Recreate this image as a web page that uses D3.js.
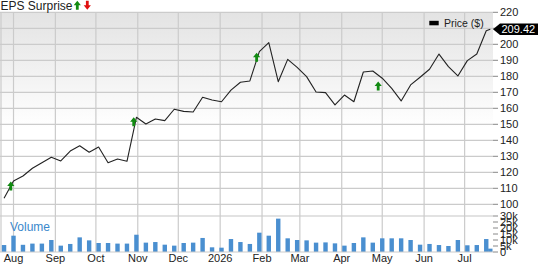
<!DOCTYPE html>
<html><head><meta charset="utf-8">
<script src="https://cdn.jsdelivr.net/npm/d3@7"></script>
<style>body{margin:0;background:#fff}svg{display:block;font-family:"Liberation Sans",Arial,sans-serif}</style>
</head><body><svg id="c" width="538" height="264"></svg>
<script>
const dates = ["2025-07-25","2025-08-01","2025-08-08","2025-08-15","2025-08-22","2025-08-29","2025-09-05","2025-09-12","2025-09-19","2025-09-26","2025-10-03","2025-10-10","2025-10-17","2025-10-24","2025-10-31","2025-11-07","2025-11-14","2025-11-21","2025-11-28","2025-12-05","2025-12-12","2025-12-19","2025-12-26","2026-01-02","2026-01-09","2026-01-16","2026-01-23","2026-01-30","2026-02-06","2026-02-13","2026-02-20","2026-02-27","2026-03-06","2026-03-13","2026-03-20","2026-03-27","2026-04-03","2026-04-10","2026-04-17","2026-04-24","2026-05-01","2026-05-08","2026-05-15","2026-05-22","2026-05-29","2026-06-05","2026-06-12","2026-06-19","2026-06-26","2026-07-03","2026-07-10","2026-07-17","2026-07-20"];
const price = [103.8,114.6,117.7,122.5,126,129.4,127.1,133.3,136.6,132.5,135.8,126,128.3,126.9,154.4,150.2,153.3,152.3,159.4,158.1,157.7,166.9,165.2,164.1,171.4,176.3,177.1,195.4,201,176.6,190.6,185.6,179.8,170.2,169.8,162.1,168.3,164.1,182.7,183.3,178.8,172.5,164.6,174.6,179.4,184.4,193.9,186,180.2,189.8,193.9,208.5,209.42];
const volume = [5.8,13.6,6,7,7,10,5.3,6.7,12.2,9.7,7.5,7.5,7,7,14.4,7.8,8.3,6.1,5.3,7.5,7.8,11.7,3.9,3.6,10.8,8.3,6.7,16.1,13.6,27.8,11.4,10,9.7,7.8,8,7.2,5.3,7.5,12.2,7.8,11.4,11.4,11.4,10,6.1,6.7,5.8,5,10,5.6,5.8,10.8,2.8];
const epsDates = ["2025-07-30","2025-10-29","2026-01-28","2026-04-28"];
const epsLevels = [111.4,151.6,191.9,173.9];
const epsType = ["up","up","up","up"];
const priceTicks = [100,110,120,130,140,150,160,170,180,190,200,210,220];
const volTicks = [0,5,10,15,20,25,30];
const volTickLabels = ["0","5k","10k","15k","20k","25k","30k"];
const monthTicks = ["2025-08-01","2025-09-01","2025-10-01","2025-11-01","2025-12-01","2026-01-01","2026-02-01","2026-03-01","2026-04-01","2026-05-01","2026-06-01","2026-07-01"];
const monthLabels = ["Aug","Sep","Oct","Nov","Dec","2026","Feb","Mar","Apr","May","Jun","Jul"];
const lastLabel = "209.42";

const P = d3.timeParse("%Y-%m-%d");
const svg = d3.select("#c");
const L = 0, R = 493, T = 12.3, B = 204.3, VT = 216, VB = 252;
const x = d3.scaleTime().domain([P("2025-07-22"), P("2026-07-22")]).range([L, R]);
const y = d3.scaleLinear().domain([100, 220]).range([B, T]);
const yv = d3.scaleLinear().domain([0, 30]).range([VB, VT]);

const defs = svg.append("defs");
const g = defs.append("linearGradient").attr("id","bg").attr("x1",0).attr("y1",0).attr("x2",0).attr("y2",1);
g.append("stop").attr("offset","0%").attr("stop-color","#e3e3e3");
g.append("stop").attr("offset","60%").attr("stop-color","#ffffff");
svg.append("rect").attr("x",L).attr("y",T).attr("width",R-L).attr("height",B-T).attr("fill","url(#bg)");

// horizontal grid
svg.append("g").selectAll("line").data(priceTicks).join("line")
  .attr("x1",L).attr("x2",R).attr("y1",d=>y(d)).attr("y2",d=>y(d))
  .attr("stroke","#cbcbcb").attr("stroke-width",1.2);
// volume top band
svg.append("line").attr("x1",L).attr("x2",R).attr("y1",VT).attr("y2",VT).attr("stroke","#e2e2e2").attr("stroke-width",2);
// vertical grid
svg.append("g").selectAll("line").data(monthTicks).join("line")
  .attr("x1",d=>x(P(d))).attr("x2",d=>x(P(d))).attr("y1",T).attr("y2",VB)
  .attr("stroke","#cbcbcb").attr("stroke-width",1.2);
svg.append("line").attr("x1",1).attr("x2",1).attr("y1",T).attr("y2",VB).attr("stroke","#cbcbcb").attr("stroke-width",1.2);

// volume bars
svg.append("g").selectAll("rect").data(volume).join("rect")
  .attr("x",(d,i)=>x(P(dates[i]))-2.2).attr("width",4.4)
  .attr("y",d=>yv(d)).attr("height",d=>VB-yv(d))
  .attr("fill","#4a8fd0");
svg.append("line").attr("x1",L).attr("x2",R).attr("y1",VB).attr("y2",VB).attr("stroke","#cbcbcb").attr("stroke-width",1);

svg.append("text").attr("x",10).attr("y",230.5).attr("font-size",12).attr("fill","#3a88cc").text("Volume");

// price line
const line = d3.line().x((d,i)=>x(P(dates[i]))).y(d=>y(d));
svg.append("path").datum(price).attr("d",line).attr("fill","none").attr("stroke","#222").attr("stroke-width",1.1).attr("stroke-linejoin","round");

// EPS arrows
function arrow(sel, cx, cy, up, col){
  const s = up ? 1 : -1;
  const pts = [[0,-4.5],[3.6,0],[1.4,0],[1.4,4.5],[-1.4,4.5],[-1.4,0],[-3.6,0]].map(p=>[cx+p[0], cy+s*p[1]]);
  sel.append("polygon").attr("points",pts.map(p=>p.join(",")).join(" ")).attr("fill",col);
}
const ga = svg.append("g");
epsDates.forEach((d,i)=>arrow(ga, x(P(d)), y(epsLevels[i]), epsType[i]==="up", epsType[i]==="up"?"#118a11":"#e01010"));

const ly = y(price[price.length-1]);

// right axis price
const ax = svg.append("g").attr("font-size",11).attr("fill","#222");
ax.selectAll("line.pt").data(priceTicks).join("line").attr("class","pt")
  .attr("x1",R).attr("x2",R+5).attr("y1",d=>y(d)).attr("y2",d=>y(d)).attr("stroke","#888");
ax.selectAll("text.pt").data(priceTicks.filter(d=>Math.abs(y(d)-ly)>9)).join("text").attr("class","pt")
  .attr("x",R+7).attr("y",d=>y(d)+4).text(d=>d);
ax.selectAll("line.vt").data(volTicks).join("line").attr("class","vt")
  .attr("x1",R).attr("x2",R+5).attr("y1",d=>yv(d)).attr("y2",d=>yv(d)).attr("stroke","#888");
ax.selectAll("text.vt").data(volTicks).join("text").attr("class","vt")
  .attr("x",R+7).attr("y",d=>yv(d)+4).text((d,i)=>volTickLabels[i]);

// x labels
svg.append("g").attr("font-size",11).attr("fill","#222").selectAll("text").data(monthTicks).join("text")
  .attr("x",d=>x(P(d))).attr("y",262).attr("text-anchor","middle").text((d,i)=>monthLabels[i]);

// last price label
svg.append("polygon").attr("points",[[R,ly],[R+7,ly-5.7],[538,ly-5.7],[538,ly+5.7],[R+7,ly+5.7]].map(p=>p.join(",")).join(" ")).attr("fill","#000");
svg.append("text").attr("x",501.5).attr("y",ly+4).attr("font-size",11).attr("fill","#fff").text(lastLabel);

// legend
svg.append("rect").attr("x",429.3).attr("y",20.8).attr("width",9.4).attr("height",4.5).attr("fill","#000");
svg.append("text").attr("x",444).attr("y",27.3).attr("font-size",10.5).attr("fill","#222").text("Price ($)");

// title
svg.append("text").attr("x",0.5).attr("y",9.5).attr("font-size",12).attr("fill","#222").text("EPS Surprise");
arrow(svg, 77.3, 5.2, true, "#118a11");
arrow(svg, 87.3, 5.2, false, "#e01010");
</script></body></html>
